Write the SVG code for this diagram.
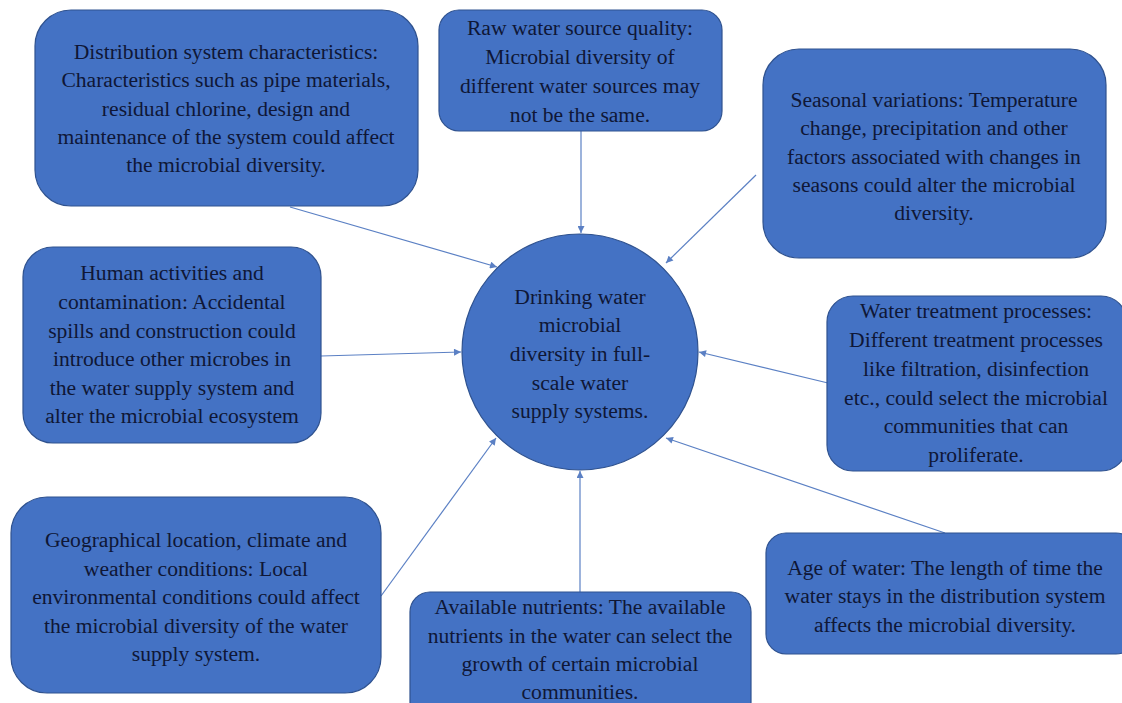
<svg xmlns="http://www.w3.org/2000/svg" width="1122" height="703" viewBox="0 0 1122 703">
<style>
.box{fill:#4472c4;stroke:#2f528f;stroke-width:1.2}
.t{font-family:"Liberation Serif","Times New Roman",serif;font-size:21.6px;fill:#0f1736;text-anchor:middle}
.c{stroke:#5b80c4;stroke-width:1.2;fill:none;marker-end:url(#ah)}
</style>
<defs>
<marker id="ah" viewBox="0 0 10 10" refX="10" refY="5" markerWidth="8" markerHeight="7" markerUnits="userSpaceOnUse" orient="auto">
<path d="M0,0 L10,5 L0,10 z" fill="#5b80c4"/>
</marker>
</defs>
<rect width="1122" height="703" fill="#ffffff"/>
<g id="connectors">
<line class="c" x1="290" y1="207" x2="497" y2="267"/>
<line class="c" x1="581" y1="131" x2="581" y2="233"/>
<line class="c" x1="756" y1="175" x2="666" y2="263"/>
<line class="c" x1="321" y1="356" x2="461" y2="352"/>
<line class="c" x1="828" y1="383" x2="699" y2="352"/>
<line class="c" x1="945" y1="533" x2="666" y2="438"/>
<line class="c" x1="580" y1="592" x2="580" y2="471"/>
<line class="c" x1="381" y1="596" x2="496" y2="438"/>
</g>
<g id="center">
<circle cx="580" cy="352" r="118" class="box"/>
<text class="t"><tspan x="580" y="304">Drinking water</tspan><tspan x="580" y="332">microbial</tspan><tspan x="580" y="361">diversity in full-</tspan><tspan x="580" y="390">scale water</tspan><tspan x="580" y="418">supply systems.</tspan></text>
</g>
<g id="distribution">
<rect x="35" y="10" width="383" height="196" rx="36" class="box"/>
<text class="t"><tspan x="226" y="59">Distribution system characteristics:</tspan><tspan x="226" y="87">Characteristics such as pipe materials,</tspan><tspan x="226" y="116">residual chlorine, design and</tspan><tspan x="226" y="144">maintenance of the system could affect</tspan><tspan x="226" y="172">the microbial diversity.</tspan></text>
</g>
<g id="raw-water">
<rect x="439" y="10" width="283" height="121" rx="20" class="box"/>
<text class="t"><tspan x="580" y="35">Raw water source quality:</tspan><tspan x="580" y="64">Microbial diversity of</tspan><tspan x="580" y="93">different water sources may</tspan><tspan x="580" y="122">not be the same.</tspan></text>
</g>
<g id="seasonal">
<rect x="763" y="49" width="343" height="209" rx="36" class="box"/>
<text class="t"><tspan x="934" y="107">Seasonal variations: Temperature</tspan><tspan x="934" y="135">change, precipitation and other</tspan><tspan x="934" y="164">factors associated with changes in</tspan><tspan x="934" y="192">seasons could alter the microbial</tspan><tspan x="934" y="220">diversity.</tspan></text>
</g>
<g id="human">
<rect x="23" y="247" width="298" height="196" rx="30" class="box"/>
<text class="t"><tspan x="172" y="280">Human activities and</tspan><tspan x="172" y="309">contamination: Accidental</tspan><tspan x="172" y="338">spills and construction could</tspan><tspan x="172" y="366">introduce other microbes in</tspan><tspan x="172" y="395">the water supply system and</tspan><tspan x="172" y="423">alter the microbial ecosystem</tspan></text>
</g>
<g id="treatment">
<rect x="827" y="296" width="300" height="175" rx="26" class="box"/>
<text class="t"><tspan x="976" y="318">Water treatment processes:</tspan><tspan x="976" y="347">Different treatment processes</tspan><tspan x="976" y="376">like filtration, disinfection</tspan><tspan x="976" y="405">etc., could select the microbial</tspan><tspan x="976" y="433">communities that can</tspan><tspan x="976" y="462">proliferate.</tspan></text>
</g>
<g id="geographical">
<rect x="11" y="497" width="370" height="196" rx="36" class="box"/>
<text class="t"><tspan x="196" y="547">Geographical location, climate and</tspan><tspan x="196" y="576">weather conditions: Local</tspan><tspan x="196" y="604">environmental conditions could affect</tspan><tspan x="196" y="633">the microbial diversity of the water</tspan><tspan x="196" y="661">supply system.</tspan></text>
</g>
<g id="nutrients">
<rect x="410" y="592" width="341" height="130" rx="20" class="box"/>
<text class="t"><tspan x="580" y="614">Available nutrients: The available</tspan><tspan x="580" y="643">nutrients in the water can select the</tspan><tspan x="580" y="671">growth of certain microbial</tspan><tspan x="580" y="699">communities.</tspan></text>
</g>
<g id="age">
<rect x="766" y="533" width="370" height="121" rx="20" class="box"/>
<text class="t"><tspan x="945" y="575">Age of water: The length of time the</tspan><tspan x="945" y="603">water stays in the distribution system</tspan><tspan x="945" y="632">affects the microbial diversity.</tspan></text>
</g>
</svg>
